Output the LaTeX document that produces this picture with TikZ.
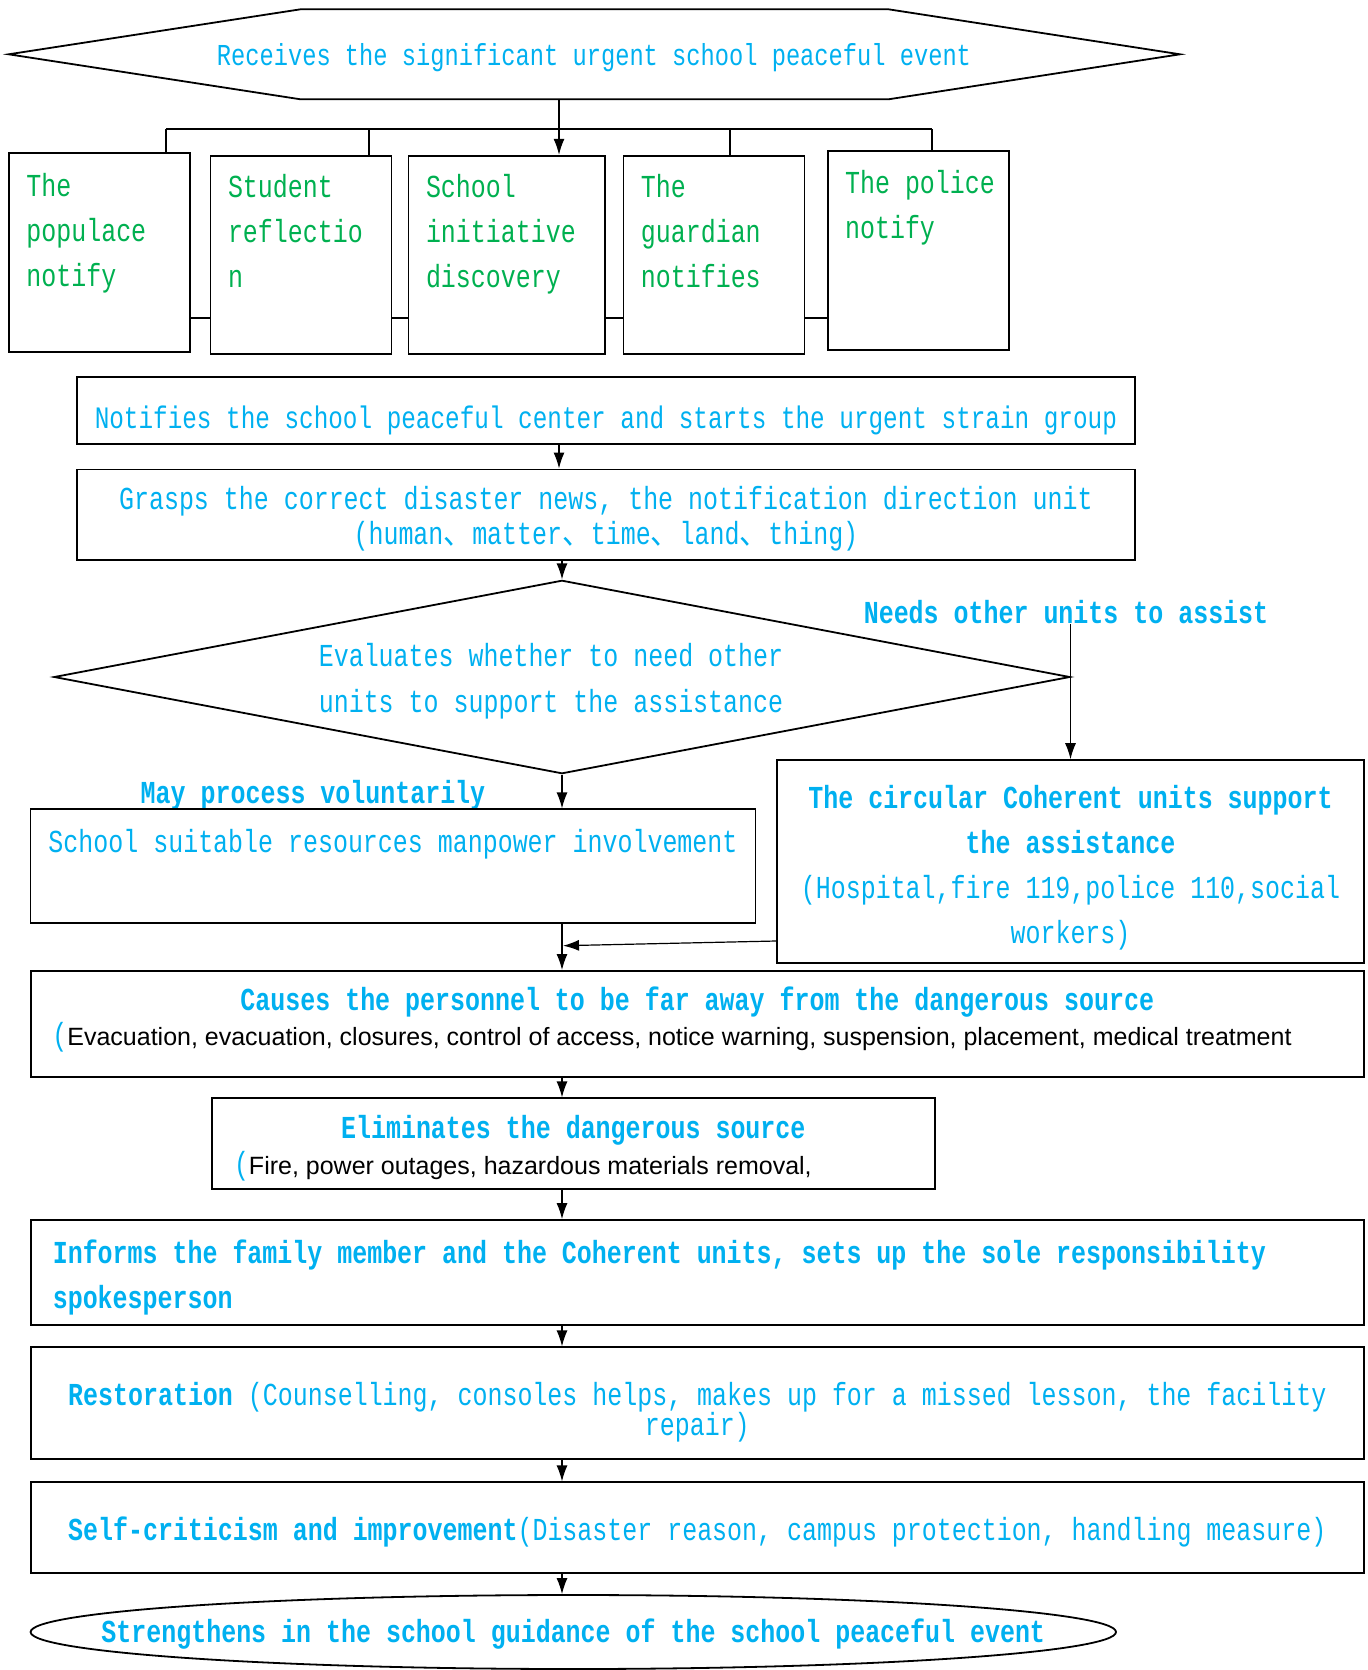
\documentclass[tikz,border=0pt]{standalone}
\usepackage{fontspec}
\usetikzlibrary{shapes.geometric,arrows.meta}
\newfontfamily\lmono[FakeStretch=0.78]{Liberation Mono}
\newfontfamily\lcjk[FakeStretch=0.9]{Noto Sans CJK SC}
\newfontfamily\lsans{Liberation Sans}
\definecolor{cy}{HTML}{00B0F0}
\definecolor{gr}{HTML}{00B050}
\newcommand\fwd{{\lcjk 、}}
\newcommand\sanstext[1]{{\lsans\fontsize{12.5}{15}\selectfont\color{black}#1}}

\begin{document}
\begin{tikzpicture}[x=0.5pt,y=-0.5pt,>={Latex[length=8pt,width=5.5pt]},
    box/.style={draw,line width=0.9pt,inner sep=0pt},
    gbox/.style={box,minimum width=90.5pt,minimum height=99.3pt},
    wbox/.style={box,minimum width=666.7pt},
    gtext/.style={inner sep=0pt,align=left,text=gr,font=\lmono\fontsize{16}{22.4}\selectfont},
    ctext/.style={inner sep=0pt,text=cy,font=\lmono\fontsize{16}{22.5}\selectfont},
    ltext/.style={ctext,font=\lmono\bfseries\fontsize{16}{20}\selectfont},
    line/.style={line width=0.6pt},
    arrow/.style={line,->}]
    \useasboundingbox (0,0) rectangle (1367,1670);
    \coordinate (spine) at (562,0);
    \coordinate (hexb) at (559,99.3);
    \coordinate (bus) at (559,129.3);
    \coordinate (join) at (563,945.7);

    % event
    \node[ctext,anchor=base,font=\lmono\fontsize{15.2}{18}\selectfont] (recv) at (594,65.4)
      {Receives the significant urgent school peaceful event};
    \draw[box] (8.7,54.3) -- (300.5,9.3) -- (888.5,9.3) -- (1180,54.3)
      -- (888.5,99.3) -- (300.5,99.3) -- cycle;

    % sources
    \node[gbox] (pop) at (99.4,252.5) {};
    \node[gbox] (stu) at (301,255) {};
    \node[gbox,minimum width=98.3pt] (sch) at (506.8,255) {};
    \node[gbox] (gua) at (713.9,255) {};
    \node[gbox] (pol) at (918.1,250.5) {};
    \foreach \nm/\dy/\tx in {pop/66.9/{The\\populace\\notify},stu/66.1/{Student\\reflectio\\n},
        sch/66.1/{School\\initiative\\discovery},gua/66.1/{The\\guardian\\notifies},pol/43.9/{The police\\notify}}
      \node[gtext,anchor=base west] (\nm t) at ([shift={(9pt,-\dy pt)}]\nm.north west) {\tx};
    \draw[arrow] (hexb) -- (sch.north -| hexb);
    \draw[line,line width=0.9pt] (166,0 |- bus) -- (932,0 |- bus);
    \foreach \x/\nm in {166/pop,369/stu,730/gua,932/pol}
      \draw[line] (\x,0 |- bus) -- (\x,0 |- \nm.north);
    \foreach \a/\nm in {pop/stu,stu/sch,sch/gua,gua/pol}
      \draw[line,line width=1.1pt] (\a.east |- 0,318) -- (\nm.west |- 0,318);

    % notify and grasp
    \node[box,minimum width=529.2pt,minimum height=33.8pt] (notif) at (605.9,410.5) {};
    \node[ctext,anchor=base,font=\lmono\fontsize{15.6}{18}\selectfont] (notift) at (605.9,428.5)
      {Notifies the school peaceful center and starts the urgent strain group};
    \node[box,minimum width=529.2pt,minimum height=45.3pt] (grasp) at (605.9,514.7) {};
    \node[ctext,anchor=base,align=center,font=\lmono\fontsize{16}{17.5}\selectfont] (graspt) at (605.9,544.5)
      {Grasps the correct disaster news, the notification direction unit\\(human\fwd matter\fwd time\fwd land\fwd thing)};
    \draw[arrow] (notif.south -| hexb) -- (grasp.north -| hexb);

    % decision
    \node[draw,line width=0.9pt,diamond,shape aspect=5.26,minimum width=508pt,minimum height=96.7pt,inner sep=0pt] (eval) at (562,677) {};
    \node[ctext,anchor=base,align=left,font=\lmono\fontsize{16}{23}\selectfont] (evalt) at (551,712.7)
      {Evaluates whether to need other\\units to support the assistance};
    \draw[arrow] (grasp.south -| eval.north) -- (eval.north);
    \node[ltext,anchor=base] (needs) at (1066,623.6) {Needs other units to assist};
    \node[ltext,anchor=base] (may) at (313,803.5) {May process voluntarily};

    \node[box,minimum width=362.5pt,minimum height=56.7pt] (school) at (393,866) {};
    \node[ctext,anchor=base] (schoolt) at ([yshift=-22.1pt]school.north)
      {School suitable resources manpower involvement};
    \node[box,minimum width=293.5pt,minimum height=101.6pt] (circ) at (1070.5,861.7) {};
    \node[ctext,anchor=base,align=center] (circt) at (1070.5,943.8)
      {{\bfseries The circular Coherent units support}\\{\bfseries the assistance}\\(Hospital,fire 119,police 110,social\\workers)};
    \draw[arrow] (eval.south) -- (eval.south |- school.north);
    \draw[arrow] (needs.south -| circ.north) -- (circ.north);

    % handling
    \node[wbox,minimum height=52.9pt] (causes) at (697.3,1023.8) {};
    \node[ctext,anchor=base,align=left,font=\lmono\fontsize{16}{17.5}\selectfont] (causest) at (697.3,1045)
      {\makebox[644.9pt]{\bfseries Causes the personnel to be far away from the dangerous source}\\(\sanstext{Evacuation, evacuation, closures, control of access, notice warning, suspension, placement, medical treatment}};
    \node[box,minimum width=361.3pt,minimum height=45.5pt] (elim) at (573.3,1143.8) {};
    \node[ctext,anchor=base,align=left,font=\lmono\fontsize{16}{18}\selectfont] (elimt) at (573.3,1174)
      {\makebox[339.3pt]{\bfseries Eliminates the dangerous source}\\(\sanstext{Fire, power outages, hazardous materials removal,}};
    \node[wbox,minimum height=52.5pt] (inform) at (697.3,1272.5) {};
    \node[ltext,anchor=base west,align=left,font=\lmono\bfseries\fontsize{16}{22.5}\selectfont] (informt) at (52.4,1308)
      {Informs the family member and the Coherent units, sets up the sole responsibility\\spokesperson};
    \node[wbox,minimum height=56pt] (rest) at (697.3,1403.3) {};
    \node[ctext,anchor=base,align=center,font=\lmono\fontsize{16}{15}\selectfont] (restt) at (697.3,1435)
      {{\bfseries Restoration} (Counselling, consoles helps, makes up for a missed lesson, the facility\\repair)};
    \node[wbox,minimum height=45.2pt] (self) at (697.3,1527.5) {};
    \node[ctext,anchor=base] (selft) at (697.3,1540)
      {{\bfseries Self-criticism and improvement}(Disaster reason, campus protection, handling measure)};
    \node[draw,line width=0.9pt,ellipse,minimum width=542.7pt,minimum height=37pt,inner sep=0pt] (strg) at (573.3,1632) {};
    \node[ltext,anchor=base] (strgt) at (573.3,1642) {Strengthens in the school guidance of the school peaceful event};

    \draw[arrow] (school.south -| spine) -- (causes.north -| spine);
    \draw[arrow] (circ.west |- 0,941) -- (join);
    \foreach \a/\nm in {causes/elim,elim/inform,inform/rest,rest/self,self/strg}
      \draw[arrow] (\a.south -| spine) -- (\nm.north -| spine);
\end{tikzpicture}
\end{document}
